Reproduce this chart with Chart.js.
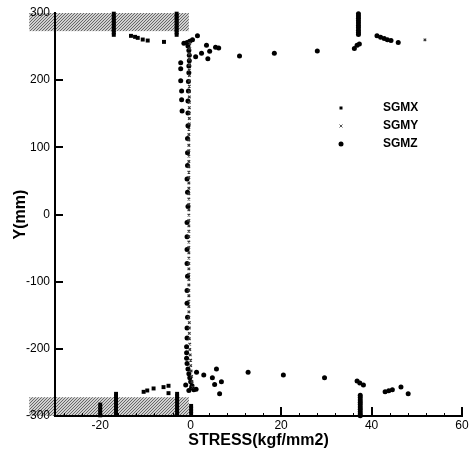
<!DOCTYPE html>
<html>
<head>
<meta charset="utf-8">
<script src="https://cdn.jsdelivr.net/npm/chart.js"></script>
<style>
  html, body { margin: 0; padding: 0; background: #fff; }
  canvas { display: block; }
</style>
</head>
<body>
<canvas id="stressChart" width="473" height="451"></canvas>
<script>
// axis ticks
const yTickValues = [-300, -200, -100, 0, 100, 200, 300];
const xTickValues = [-20, 0, 20, 40, 60];

// flange zones (stress range, Y range)
const flangeBands = [
    {xMin: -35.7, xMax: -0.4, yMin: 273, yMax: 300},
    {xMin: -35.7, xMax: -0.4, yMin: -300, yMax: -272}
];

// [stress, Y]
const sgmx = [
    [-17, 299], [-17, 295.5], [-17, 292], [-17, 288.5], [-17, 285], [-17, 281.5], [-17, 278], [-17, 274.5], [-17, 271], [-17, 267.5],
    [-3.1, 299], [-3.1, 295.5], [-3.1, 292], [-3.1, 288.5], [-3.1, 285], [-3.1, 281.5], [-3.1, 278], [-3.1, 274.5], [-3.1, 271], [-3.1, 267.5],
    [-16.5, -267], [-16.5, -270.5], [-16.5, -274], [-16.5, -277.5], [-16.5, -281], [-16.5, -284.5], [-16.5, -288], [-16.5, -291.5], [-16.5, -295], [-16.5, -298.5],
    [-3, -267], [-3, -270.5], [-3, -274], [-3, -277.5], [-3, -281], [-3, -284.5], [-3, -288], [-3, -291.5], [-3, -295], [-3, -298.5],
    [-20, -283], [-20, -287], [-20, -291], [-20, -295], [-20, -299],
    [0.1, -285], [0.1, -289], [0.1, -293], [0.1, -297],
    [-13.2, 266], [-12.3, 264.5], [-11.7, 263], [-10.6, 260.5], [-9.5, 259], [-5.9, 257],
    [-10.4, -264], [-9.6, -262], [-8.2, -259], [-6, -257], [-4.9, -255], [-4.9, -266]
];

const sgmy = [
    [-0.2, 255], [-0.2, 247], [-0.3, 239], [-0.3, 231], [-0.3, 223], [-0.3, 215], [-0.3, 207], [-0.3, 199],
    [-0.3, 191], [-0.3, 183], [-0.3, 175], [-0.3, 167], [-0.3, 159], [-0.3, 151], [-0.3, 143], [-0.3, 135],
    [-0.4, 127], [-0.4, 119], [-0.4, 111], [-0.4, 103], [-0.4, 95], [-0.4, 87], [-0.4, 79], [-0.4, 71],
    [-0.4, 63], [-0.4, 55], [-0.4, 47], [-0.4, 39], [-0.4, 31], [-0.4, 23], [-0.4, 15], [-0.4, 7],
    [-0.4, -1], [-0.4, -9], [-0.4, -17], [-0.4, -25], [-0.4, -33], [-0.4, -41], [-0.4, -49], [-0.4, -57],
    [-0.4, -65], [-0.4, -73], [-0.4, -81], [-0.4, -89], [-0.4, -97], [-0.4, -105], [-0.4, -113], [-0.4, -121],
    [-0.4, -129], [-0.4, -137], [-0.4, -145], [-0.4, -153], [-0.3, -161], [-0.3, -169], [-0.3, -177], [-0.3, -185],
    [-0.2, -193], [-0.2, -201], [-0.1, -209], [0, -217], [0, -225], [0.1, -233], [0.2, -241], [0.3, -249], [0.4, -257],
    [51.8, 260]
];

const sgmz = [
    [-0.6, 12], [-0.7, 33], [-0.8, 53], [-0.7, 73], [-0.7, 92], [-0.7, 113], [-0.6, 132], [-0.6, 151],
    [-0.6, 169], [-0.5, 184], [-0.5, 198], [-0.4, 211], [-0.4, 221], [-0.3, 229], [-0.3, 237], [-0.4, 244],
    [-0.8, -12], [-0.8, -33], [-0.8, -52], [-0.8, -73], [-0.7, -92], [-0.8, -113], [-0.8, -132], [-0.7, -153],
    [-0.8, -169], [-0.8, -184], [-0.9, -197], [-0.9, -206], [-0.9, -214], [-0.8, -222], [-0.6, -230], [-0.4, -237],
    [-0.2, -243], [0, -249], [0.3, -255], [-1.1, -254],
    [-2.2, 226], [-2.2, 217], [-2.2, 199], [-2.0, 184], [-2.0, 171], [-1.9, 154],
    [-1.5, 255], [-0.8, 256], [-0.2, 258], [0.4, 260], [-0.6, 251], [1.5, 266],
    [3.5, 252], [5.5, 249], [6.2, 248], [4.2, 243], [2.4, 240], [1.1, 235], [3.8, 232],
    [10.8, 236], [18.5, 240], [28, 243.6], [36.2, 247], [36.8, 252], [37.3, 254],
    [37.1, 299], [37.1, 295.5], [37.1, 292], [37.1, 288.5], [37.1, 285], [37.1, 281.5], [37.1, 278], [37.1, 274.5], [37.1, 271], [37.1, 268],
    [41.2, 266], [42, 264], [42.8, 262], [43.5, 260], [44.3, 259], [45.9, 256],
    [0.7, -261], [0.2, -258], [-0.4, -262], [1.2, -260],
    [1.3, -235], [2.9, -239], [4.8, -243], [5.7, -230], [6.8, -249], [5.3, -253], [6.4, -267],
    [12.7, -235], [20.5, -239], [29.6, -243], [36.8, -248], [37.4, -251], [38.2, -254],
    [37.5, -269], [37.5, -272.5], [37.5, -276], [37.5, -279.5], [37.5, -283], [37.5, -286.5], [37.5, -290], [37.5, -293.5], [37.5, -297], [37.5, -299.5],
    [43, -264], [43.8, -262.5], [44.6, -261], [46.5, -257], [48.1, -267]
];

const toXY = pts => pts.map(p => ({x: p[0], y: p[1]}));

Chart.defaults.font.family = '"Liberation Sans", Arial, sans-serif';
Chart.defaults.color = '#000';

// stippled grey fill for the flange zones
function stipple(ctx) {
    const c = document.createElement('canvas');
    c.width = 3; c.height = 3;
    const g = c.getContext('2d');
    g.fillStyle = 'rgba(0,0,0,0.18)';
    g.fillRect(0, 0, 3, 3);
    g.fillStyle = 'rgba(0,0,0,0.5)';
    g.fillRect(0, 0, 1, 1);
    g.fillRect(2, 1, 1, 1);
    g.fillRect(1, 2, 1, 1);
    return ctx.createPattern(c, 'repeat');
}

const flangePlugin = {
    id: 'flanges',
    beforeDatasetsDraw(chart) {
        const {ctx, scales: {x, y}} = chart;
        ctx.save();
        ctx.fillStyle = stipple(ctx);
        flangeBands.forEach(b => {
            const x0 = x.getPixelForValue(b.xMin), x1 = x.getPixelForValue(b.xMax);
            const y0 = y.getPixelForValue(b.yMax), y1 = y.getPixelForValue(b.yMin);
            ctx.fillRect(x0, y0, x1 - x0, y1 - y0);
        });
        ctx.restore();
    }
};

// inward tick marks, minor ticks every 4 on the stress axis
const tickPlugin = {
    id: 'innerTicks',
    afterDraw(chart) {
        const {ctx, chartArea: a, scales: {x, y}} = chart;
        ctx.save();
        ctx.strokeStyle = '#000';
        ctx.lineWidth = 2;
        ctx.beginPath();
        yTickValues.forEach(v => {
            if (Math.abs(v) >= 300) return;
            const py = Math.round(y.getPixelForValue(v));
            ctx.moveTo(a.left, py);
            ctx.lineTo(a.left + 8, py);
        });
        xTickValues.forEach(v => {
            const px = Math.round(x.getPixelForValue(v));
            ctx.moveTo(px, a.bottom);
            ctx.lineTo(px, a.bottom - 9);
        });
        ctx.stroke();
        ctx.lineWidth = 1;
        ctx.beginPath();
        for (let v = x.min + 2; v < x.max; v += 4) {
            if (v % 20 === 0) continue;
            const px = Math.round(x.getPixelForValue(v)) + 0.5;
            ctx.moveTo(px, a.bottom);
            ctx.lineTo(px, a.bottom - 3);
        }
        ctx.stroke();
        ctx.restore();
    }
};

const legendPlugin = {
    id: 'boxLegend',
    afterDraw(chart) {
        const {ctx, chartArea: a} = chart;
        ctx.save();
        ctx.font = 'bold 12px "Liberation Sans", Arial, sans-serif';
        ctx.textBaseline = 'middle';
        chart.data.datasets.forEach((ds, i) => {
            const mx = a.left + 286, my = a.top + 95 + i * 18;
            ctx.fillStyle = '#000';
            ctx.strokeStyle = '#000';
            if (ds.pointStyle === 'rect') {
                ctx.fillRect(mx - 1.5, my - 1.5, 3, 3);
            } else if (ds.pointStyle === 'crossRot') {
                ctx.lineWidth = 1;
                ctx.strokeStyle = '#555';
                ctx.beginPath();
                ctx.moveTo(mx - 1.5, my - 1.5); ctx.lineTo(mx + 1.5, my + 1.5);
                ctx.moveTo(mx + 1.5, my - 1.5); ctx.lineTo(mx - 1.5, my + 1.5);
                ctx.stroke();
            } else {
                ctx.beginPath();
                ctx.arc(mx, my, 2.5, 0, Math.PI * 2);
                ctx.fill();
            }
            ctx.fillStyle = '#000';
            ctx.fillText(ds.label, a.left + 328, my);
        });
        ctx.restore();
    }
};

new Chart(document.getElementById('stressChart').getContext('2d'), {
    type: 'scatter',
    data: {
        datasets: [
            {label: 'SGMX', data: toXY(sgmx), pointStyle: 'rect', pointRadius: 2.8,
             backgroundColor: '#000', borderColor: '#000', borderWidth: 0, clip: false},
            {label: 'SGMY', data: toXY(sgmy), pointStyle: 'crossRot', pointRadius: 1.8,
             backgroundColor: '#333', borderColor: '#333', borderWidth: 1.2, clip: false},
            {label: 'SGMZ', data: toXY(sgmz), pointStyle: 'circle', pointRadius: 2.5,
             backgroundColor: '#000', borderColor: '#000', borderWidth: 0, clip: false}
        ]
    },
    options: {
        responsive: false,
        animation: false,
        devicePixelRatio: 1,
        layout: {padding: {top: 13, right: 11, left: 0, bottom: 0}},
        plugins: {legend: {display: false}, tooltip: {enabled: false}},
        scales: {
            x: {
                type: 'linear', min: -30, max: 60,
                afterFit(scale) { scale.height = 35; },
                afterBuildTicks(scale) { scale.ticks = xTickValues.map(v => ({value: v})); },
                grid: {display: false, drawTicks: false},
                border: {display: true, color: '#000', width: 2},
                ticks: {padding: 2, font: {size: 12}, color: '#000'},
                title: {display: true, text: 'STRESS(kgf/mm2)', color: '#000',
                        font: {size: 16, weight: 'bold'}, padding: {top: 0, bottom: 1}}
            },
            y: {
                type: 'linear', min: -300, max: 300,
                afterFit(scale) { scale.width = 55; },
                afterBuildTicks(scale) { scale.ticks = yTickValues.map(v => ({value: v})); },
                grid: {display: false, drawTicks: false},
                border: {display: true, color: '#000', width: 2},
                ticks: {padding: 5, font: {size: 12}, color: '#000'},
                title: {display: true, text: 'Y(mm)', color: '#000',
                        font: {size: 16, weight: 'bold'}, padding: {top: 11, bottom: 0}}
            }
        }
    },
    plugins: [flangePlugin, tickPlugin, legendPlugin]
});
</script>
</body>
</html>
